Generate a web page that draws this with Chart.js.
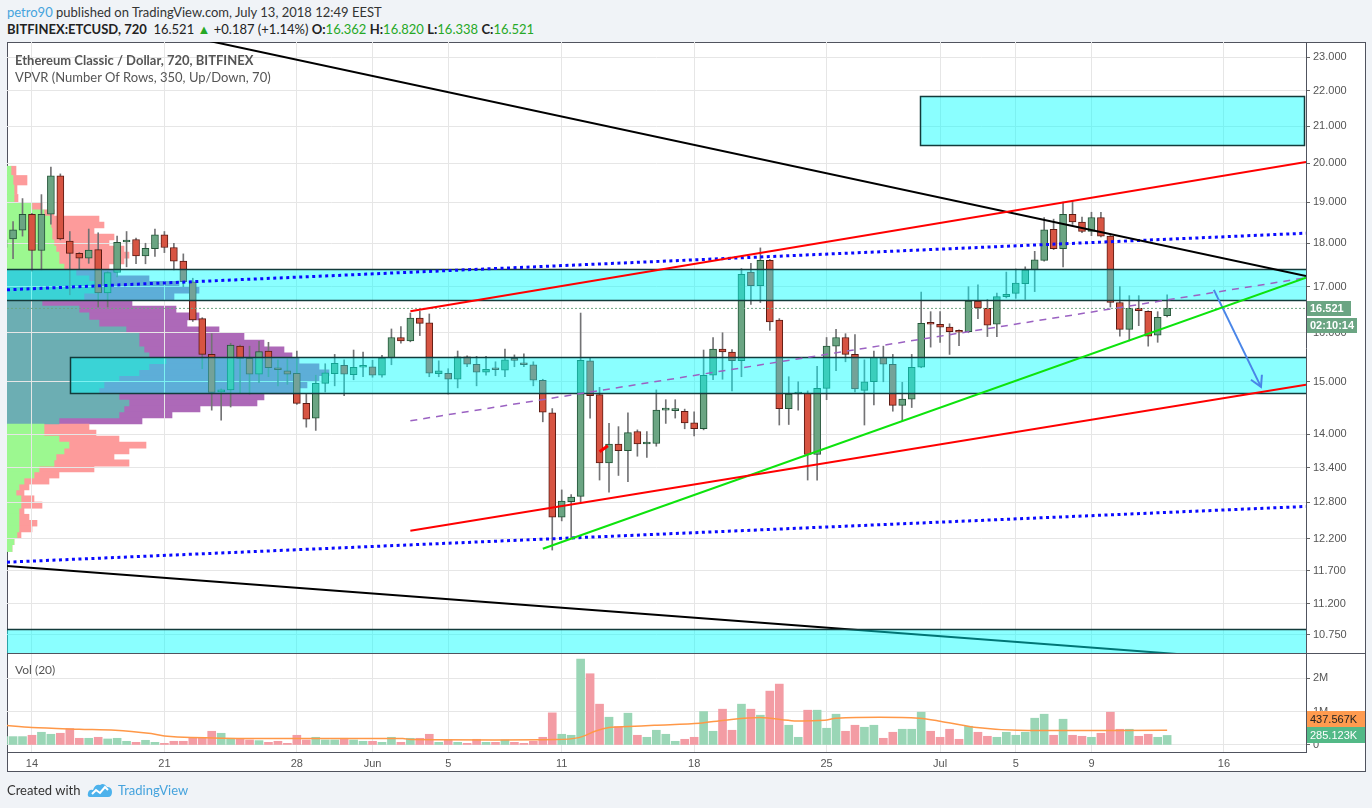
<!DOCTYPE html>
<html>
<head>
<meta charset="utf-8">
<title>ETCUSD 720</title>
<script src="https://cdn.jsdelivr.net/npm/chart.js@4.4.1/dist/chart.umd.min.js"></script>
<style>
  body { margin: 0; width: 1372px; height: 808px; overflow: hidden; background: #f0f3f7; font-family: Lato, "Liberation Sans", sans-serif; }
  .abs { position: absolute; }
  #frame { left: 7px; top: 42px; width: 1359px; height: 730px; background: #fff; box-sizing: border-box; border: 1px solid #50535e; }
  canvas { position: absolute; }
  .hl { position: absolute; height: 1px; background: #50535e; }
  .g { color: #26a826; }
  .txt { position: absolute; white-space: nowrap; z-index: 5; }
</style>
</head>
<body>
<div id="frame" class="abs"></div>
<canvas id="vpCanvas" width="1359" height="612" style="left:7px;top:42px"></canvas>
<canvas id="priceCanvas" width="1359" height="612" style="left:7px;top:42px"></canvas>
<canvas id="volCanvas" width="1359" height="118" style="left:7px;top:654px"></canvas>
<div class="hl" style="left:7px;top:653px;width:1359px;z-index:4"></div>

<div class="txt" style="left:7px;top:4px;font-size:13px;line-height:16px;color:#333"><span style="color:#45a3dd">petro90</span> published on TradingView.com, July 13, 2018 12:49 EEST</div>
<div class="txt" style="left:7px;top:21px;font-size:13px;line-height:16px;color:#222"><b>BITFINEX:ETCUSD, 720</b>&nbsp; 16.521 <span class="g">&#9650;</span> +0.187 (+1.14%) <b>O:</b><span class="g">16.362</span> <b>H:</b><span class="g">16.820</span> <b>L:</b><span class="g">16.338</span> <b>C:</b><span class="g">16.521</span></div>
<div class="txt" style="left:15px;top:52px;font-size:13px;line-height:16px;color:#555;font-weight:bold">Ethereum Classic / Dollar, 720, BITFINEX</div>
<div class="txt" style="left:15px;top:69px;font-size:13px;line-height:16px;color:#555">VPVR (Number Of Rows, 350, Up/Down, 70)</div>
<div class="txt" style="left:15px;top:662px;font-size:12px;line-height:16px;color:#555">Vol (20)</div>
<div class="txt" style="left:7px;top:782px;font-size:13px;line-height:16px;color:#333">Created with</div>
<svg class="txt" style="left:87px;top:781px" width="26" height="18" viewBox="0 0 26 18">
  <path d="M3 16 Q0 16 1 12 Q2 8 6 9 Q8 3 13 4 Q17 1 20 6 Q25 6 25 11 Q25 16 21 16 Z" fill="#4db2ec"/>
  <polyline points="5,13 9,9 13,12 18,6 21,9" fill="none" stroke="#fff" stroke-width="2"/>
</svg>
<div class="txt" style="left:118px;top:782px;font-size:13px;line-height:16px;color:#45a3dd">TradingView</div>

<script>
// ---- data: 12h candles, x in days after 14 May 2018 ----
const firstCandleDay = -1.5; // 12 May 12:00
const candleStep = 0.5;

const candleOpen = [17.90, 18.10, 18.31, 18.70, 17.83, 18.70, 19.67, 18.05, 17.76, 17.65,
  17.85, 16.86, 17.32, 18.03, 18.09, 17.70, 17.87, 18.20, 17.90, 17.58,
  17.11, 16.30, 15.55, 14.80, 14.84, 15.72, 15.47, 15.15, 15.62, 15.28,
  15.22, 15.17, 14.58, 14.30, 14.97, 15.16, 15.33, 15.14, 15.29, 15.30,
  15.13, 15.48, 15.90, 15.83, 16.31, 16.21, 15.16, 15.17, 15.05, 15.50,
  15.35, 15.19, 15.25, 15.23, 15.47, 15.38, 15.34, 15.03, 14.40, 12.55,
  12.81, 12.90, 15.42, 14.75, 13.48, 13.82, 13.70, 14.05, 13.82, 13.83,
  14.45, 14.44, 14.43, 14.21, 14.10, 15.13, 15.66, 15.60, 15.42, 17.33,
  17.02, 17.60, 16.27, 14.48, 14.76, 14.78, 13.63, 14.87, 15.72, 15.90,
  15.55, 14.83, 15.00, 15.49, 15.35, 14.54, 14.66, 15.29, 16.20, 16.18,
  16.12, 16.02, 16.02, 16.68, 16.52, 16.18, 16.78, 16.85, 17.07, 17.38,
  17.60, 18.33, 17.87, 18.70, 18.51, 18.28, 18.62, 18.17, 16.65, 16.07,
  16.52, 16.46, 15.95, 16.362];
const candleHigh = [18.25, 18.52, 19.09, 18.72, 19.19, 19.90, 19.72, 18.28, 17.78, 18.34,
  18.25, 17.34, 18.17, 18.28, 18.12, 18.00, 18.34, 18.28, 18.00, 17.75,
  17.19, 16.32, 15.98, 14.86, 15.78, 15.74, 15.72, 15.82, 15.80, 15.44,
  15.46, 15.62, 14.76, 15.13, 15.36, 15.55, 15.44, 15.64, 15.60, 15.43,
  15.53, 16.08, 16.13, 16.42, 16.46, 16.40, 15.42, 15.26, 15.62, 15.52,
  15.51, 15.51, 15.40, 15.66, 15.54, 15.56, 15.40, 15.05, 14.48, 13.01,
  12.93, 16.42, 15.47, 14.89, 14.20, 14.14, 14.40, 14.08, 14.05, 14.84,
  14.65, 14.65, 14.47, 14.42, 15.64, 15.90, 16.00, 15.65, 17.41, 17.53,
  17.89, 17.62, 16.30, 15.10, 15.00, 14.82, 15.31, 15.90, 16.07, 15.98,
  15.96, 15.44, 15.62, 15.72, 15.55, 14.99, 15.55, 16.88, 16.45, 16.45,
  16.19, 16.06, 17.00, 17.04, 16.72, 16.86, 17.33, 17.40, 17.45, 17.81,
  18.62, 18.58, 19.00, 19.02, 18.63, 18.75, 18.75, 18.20, 17.00, 16.80,
  16.80, 16.47, 16.45, 16.820];
const candleLow = [17.70, 17.64, 18.17, 17.35, 17.38, 18.46, 18.08, 16.82, 17.40, 17.53,
  16.55, 16.55, 17.22, 17.45, 17.52, 17.52, 17.69, 17.78, 17.38, 17.00,
  16.24, 15.26, 14.45, 14.26, 14.51, 14.78, 14.76, 14.98, 15.10, 14.92,
  14.95, 14.56, 14.13, 14.07, 14.80, 14.92, 14.73, 15.04, 15.10, 15.09,
  15.09, 15.34, 15.78, 15.81, 15.94, 15.10, 15.10, 14.76, 14.88, 15.30,
  14.92, 15.13, 15.12, 15.10, 15.30, 15.30, 14.92, 14.23, 12.02, 12.49,
  12.21, 12.80, 14.30, 13.18, 12.97, 13.26, 13.15, 13.60, 13.58, 13.78,
  14.20, 14.30, 14.10, 13.97, 14.08, 15.04, 15.05, 14.82, 15.10, 16.61,
  16.65, 16.05, 14.17, 14.18, 14.45, 13.18, 13.18, 14.65, 15.22, 15.40,
  14.80, 14.17, 14.55, 15.00, 14.43, 14.24, 14.50, 15.28, 15.70, 15.80,
  15.55, 15.73, 16.00, 16.30, 15.92, 15.92, 16.75, 16.74, 16.72, 16.89,
  17.58, 17.85, 17.45, 18.45, 18.25, 18.18, 18.15, 16.55, 15.93, 15.83,
  16.15, 15.72, 15.80, 16.338];
const candleClose = [18.08, 18.32, 18.70, 17.83, 18.70, 19.67, 18.10, 17.76, 17.65, 17.84,
  16.86, 17.32, 18.02, 18.07, 17.70, 17.88, 18.20, 17.90, 17.58, 17.11,
  16.27, 15.55, 14.79, 14.84, 15.74, 15.47, 15.15, 15.61, 15.28, 15.24,
  15.15, 14.58, 14.28, 14.97, 15.18, 15.37, 15.15, 15.29, 15.31, 15.13,
  15.48, 15.90, 15.83, 16.31, 16.20, 15.17, 15.22, 15.05, 15.50, 15.35,
  15.19, 15.25, 15.24, 15.44, 15.43, 15.34, 15.03, 14.41, 12.55, 12.82,
  12.89, 15.43, 14.73, 13.48, 13.82, 13.70, 14.03, 13.82, 13.83, 14.45,
  14.46, 14.45, 14.21, 14.10, 15.13, 15.66, 15.60, 15.42, 17.28, 17.02,
  17.60, 16.23, 14.48, 14.76, 14.78, 13.63, 14.87, 15.72, 15.90, 15.55,
  14.86, 15.00, 15.49, 15.35, 14.54, 14.66, 15.29, 16.20, 16.18, 16.12,
  16.02, 16.01, 16.68, 16.53, 16.16, 16.78, 16.83, 17.08, 17.38, 17.61,
  18.32, 17.87, 18.70, 18.51, 18.28, 18.62, 18.17, 16.65, 16.07, 16.52,
  16.47, 15.93, 16.33, 16.521];
// volume in millions
const volume = [0.25, 0.25, 0.25, 0.29, 0.38, 0.32, 0.35, 0.49, 0.20, 0.20,
  0.23, 0.18, 0.20, 0.11, 0.08, 0.14, 0.08, 0.05, 0.11, 0.11,
  0.22, 0.22, 0.41, 0.35, 0.20, 0.17, 0.15, 0.13, 0.08, 0.11,
  0.05, 0.29, 0.15, 0.23, 0.15, 0.15, 0.20, 0.15, 0.11, 0.11,
  0.08, 0.23, 0.08, 0.20, 0.20, 0.32, 0.08, 0.15, 0.08, 0.05,
  0.17, 0.08, 0.08, 0.15, 0.08, 0.05, 0.11, 0.23, 0.96, 0.32,
  0.29, 2.57, 2.13, 1.22, 0.83, 0.55, 0.95, 0.29, 0.23, 0.44,
  0.32, 0.11, 0.17, 0.23, 1.00, 0.41, 1.07, 0.44, 1.22, 1.07,
  0.89, 1.61, 1.82, 0.59, 0.23, 1.04, 1.04, 0.50, 0.92, 0.41,
  0.59, 0.53, 0.59, 0.20, 0.38, 0.47, 0.47, 0.98, 0.41, 0.23,
  0.47, 0.17, 0.56, 0.38, 0.26, 0.23, 0.38, 0.29, 0.38, 0.80,
  0.92, 0.29, 0.77, 0.29, 0.26, 0.23, 0.35, 0.98, 0.47, 0.47,
  0.26, 0.32, 0.23, 0.285123];
// Vol(20) moving average
const maDays = [-1.5, 0, 2.5, 4.4, 6.3, 7, 8.4, 11.8, 19.6, 20.1, 27.7, 28.9, 29.8, 30.5, 31.5,
  32.9, 35.3, 36.6, 38.5, 40.3, 41.9, 42.5, 44.8, 46.9, 48, 49.8, 52.1, 60];
const maValues = [0.59, 0.52, 0.47, 0.44, 0.34, 0.27, 0.22, 0.19, 0.19, 0.16, 0.16, 0.22, 0.42, 0.52, 0.55,
  0.59, 0.65, 0.74, 0.82, 0.72, 0.74, 0.80, 0.83, 0.80, 0.71, 0.53, 0.44, 0.437567];

// volume profile rows (price, up / down volume in arbitrary units)
const vpPrice = [19.80, 19.56, 19.31, 19.08, 18.89, 18.73, 18.58, 18.44, 18.29, 18.15,
  18.01, 17.86, 17.72, 17.58, 17.45, 17.31, 17.18, 17.06, 16.93, 16.78,
  16.64, 16.50, 16.35, 16.19, 16.06, 15.92, 15.77, 15.64, 15.53, 15.42,
  15.30, 15.18, 15.06, 14.94, 14.82, 14.70, 14.59, 14.47, 14.36, 14.25,
  14.13, 14.02, 13.91, 13.80, 13.69, 13.59, 13.48, 13.37, 13.27, 13.16,
  13.06, 12.96, 12.86, 12.75, 12.65, 12.55, 12.45, 12.36, 12.26, 12.16, 12.05];
const vpUp = [4, 6, 7, 7, 25, 37, 44, 44, 45, 45,
  47, 49, 52, 52, 57, 69, 82, 92, 92, 77,
  35, 72, 82, 92, 119, 132, 132, 137, 142, 159,
  142, 132, 112, 97, 92, 112, 122, 117, 112, 52,
  37, 37, 52, 62, 57, 49, 47, 32, 27, 17,
  12, 9, 14, 14, 12, 12, 12, 12, 10, 7, 5];
const vpDown = [5, 14, 3, 4, 10, 10, 48, 53, 42, 62,
  55, 68, 70, 65, 45, 40, 60, 80, 100, 90,
  90, 97, 110, 88, 93, 105, 125, 140, 143, 133,
  170, 190, 200, 203, 198, 145, 128, 76, 53, 83,
  45, 52, 60, 77, 65, 58, 75, 55, 25, 25,
  10, 8, 13, 21, 5, 10, 18, 13, 4, 0, 0];
const valueAreaHigh = 17.40;
const valueAreaLow = 14.19;

// drawings: [day, price] end points
const trendTop = [[-1.32, 24.87], [67.34, 17.24]];
const trendBottom = [[-1.32, 11.77], [67.34, 10.35]];
const channelHigh = [[20.0, 16.46], [67.34, 20.03]];
const channelLow = [[20.0, 12.33], [67.34, 14.94]];
const supportGreen = [[27.0, 12.04], [67.34, 17.20]];
const dottedHigh = [[-1.32, 16.93], [67.34, 18.24]];
const dottedLow = [[-1.32, 11.83], [67.34, 12.73]];
const midDashed = [[20.0, 14.25], [67.34, 17.20]];
const arrowShaft = [[62.47, 16.93], [64.96, 14.90]];
const arrowHead = [[64.43, 15.04], [64.96, 14.90], [65.01, 15.14]];
const redTick = [[30.0, 13.68], [30.44, 13.79]];

// rectangles
const zoneDays = [[46.93, 67.23], [-5, 80], [2.02, 80], [-5, 80]];
const zoneHigh = [21.85, 17.40, 15.50, 10.83];
const zoneLow = [20.48, 16.70, 14.78, 9.0];

// axes
const xMin = -1.32, xMax = 67.34;
const priceMin = 10.483, priceMax = 23.459;
const priceTicks = [10.75, 11.2, 11.7, 12.2, 12.8, 13.4, 14, 15, 16, 17, 18, 19, 20, 21, 22, 23];
const dateTickDays = [0, 7, 14, 18, 22, 28, 35, 42, 48, 52, 56, 63];
const dateTickLabels = ['14', '21', '28', 'Jun', '5', '11', '18', '25', 'Jul', '5', '9', '16'];
const volTicks = [0, 1, 2];
const countdown = '02:10:14';

// ---- styling ----
const axisFont = { family: '"Liberation Sans", Arial, sans-serif', size: 11 };
const gridColor = '#e6e6e6';
const frameColor = '#50535e';
const upColor = '#6ba583', upBorder = '#225437';
const downColor = '#d75442', downBorder = '#5b1a13';

const candleX = candleOpen.map((_, i) => firstCandleDay + i * candleStep);
const isUp = candleOpen.map((o, i) => candleClose[i] >= o);
const lastClose = candleClose[candleClose.length - 1];

function pts(list) {
    return list.map(p => ({ x: p[0], y: p[1] }));
}

function lineSet(list, color, width, dash, order) {
    return {
        type: 'line',
        data: pts(list),
        borderColor: color,
        borderWidth: width,
        borderDash: dash || [],
        pointRadius: 0,
        fill: false,
        tension: 0,
        order: order
    };
}

function dateAxis(showLabels) {
    return {
        type: 'linear',
        min: xMin,
        max: xMax,
        offset: false,
        afterBuildTicks: s => { s.ticks = dateTickDays.map(v => ({ value: v })); },
        afterFit: s => { s.height = showLabels ? 20 : 0; s.paddingLeft = 0; s.paddingRight = 0; },
        grid: { color: gridColor, drawTicks: false, offset: false },
        border: { display: showLabels, color: frameColor },
        ticks: {
            display: showLabels,
            autoSkip: false,
            maxRotation: 0,
            padding: 5,
            color: '#555',
            font: axisFont,
            callback: (v, i) => dateTickLabels[i]
        }
    };
}

// zones are drawn right after the candle bodies, under the trend lines
const zonePlugin = {
    id: 'zones',
    afterDatasetDraw(chart, args) {
        if (chart.data.datasets[args.index].label !== 'bodies') return;
        const { ctx, chartArea: a, scales: { x, y } } = chart;
        ctx.save();
        ctx.beginPath();
        ctx.rect(a.left, a.top, a.right - a.left, a.bottom - a.top);
        ctx.clip();
        zoneDays.forEach((d, i) => {
            const x1 = Math.round(x.getPixelForValue(d[0])) + 0.5;
            const x2 = Math.round(x.getPixelForValue(d[1])) + 0.5;
            const y1 = Math.round(y.getPixelForValue(zoneHigh[i])) + 0.5;
            const y2 = Math.round(y.getPixelForValue(zoneLow[i])) + 0.5;
            ctx.fillStyle = 'rgba(0, 255, 255, 0.46)';
            ctx.fillRect(x1, y1, x2 - x1, y2 - y1);
            ctx.strokeStyle = '#133b3b';
            ctx.lineWidth = 1.5;
            ctx.strokeRect(x1, y1, x2 - x1, y2 - y1);
        });
        ctx.restore();
    }
};

const lastPriceTag = {
    id: 'lastPriceTag',
    afterDraw(chart) {
        const { ctx, chartArea: a, scales: { y } } = chart;
        const yy = Math.round(y.getPixelForValue(lastClose));
        ctx.save();
        ctx.fillStyle = upColor;
        ctx.fillRect(a.right + 1, yy - 7, 44, 15);
        ctx.fillRect(a.right + 1, yy + 10, 50, 15);
        ctx.fillStyle = '#fff';
        ctx.font = 'bold 11px "Liberation Sans", Arial, sans-serif';
        ctx.textBaseline = 'middle';
        ctx.fillText(lastClose.toFixed(3), a.right + 4, yy + 1);
        ctx.fillText(countdown, a.right + 4, yy + 18);
        ctx.restore();
    }
};

const volumeTags = {
    id: 'volumeTags',
    afterDraw(chart) {
        const { ctx, chartArea: a, scales: { y } } = chart;
        const lastVol = volume[volume.length - 1];
        const lastMa = maValues[maValues.length - 1];
        const gy = Math.round(y.getPixelForValue(lastVol));
        const oy = Math.min(Math.round(y.getPixelForValue(lastMa)), gy - 16);
        ctx.save();
        ctx.font = '11px "Liberation Sans", Arial, sans-serif';
        ctx.textBaseline = 'middle';
        ctx.fillStyle = '#ff9b4f';
        ctx.fillRect(a.right + 1, oy - 8, 58, 16);
        ctx.fillStyle = '#222';
        ctx.fillText((lastMa * 1000).toFixed(3) + 'K', a.right + 4, oy + 1);
        ctx.fillStyle = '#53b987';
        ctx.fillRect(a.right + 1, gy - 8, 58, 16);
        ctx.fillStyle = '#fff';
        ctx.fillText((lastVol * 1000).toFixed(3) + 'K', a.right + 4, gy + 1);
        ctx.restore();
    }
};

// ---- volume profile (behind the price chart) ----
function inValueArea(p) {
    return p <= valueAreaHigh && p >= valueAreaLow;
}

new Chart(document.getElementById('vpCanvas'), {
    type: 'bar',
    data: {
        datasets: [
            {
                data: vpPrice.map((p, i) => ({ y: p, x: vpUp[i] })),
                backgroundColor: vpPrice.map(p => inValueArea(p) ? '#6caeb3' : '#9cf890')
            },
            {
                data: vpPrice.map((p, i) => ({ y: p, x: vpDown[i] })),
                backgroundColor: vpPrice.map(p => inValueArea(p) ? '#ad69b8' : '#fd9b9b')
            }
        ]
    },
    options: {
        indexAxis: 'y',
        responsive: false,
        animation: false,
        devicePixelRatio: 1,
        events: [],
        layout: { padding: { right: 60 } },
        datasets: { bar: { barThickness: 'flex', barPercentage: 1, categoryPercentage: 1, borderWidth: 0 } },
        plugins: { legend: { display: false }, tooltip: { enabled: false } },
        scales: {
            y: { type: 'logarithmic', min: priceMin, max: priceMax, offset: false, stacked: true, display: false },
            x: { type: 'linear', min: 0, max: 1299, stacked: true, display: false }
        }
    }
});

// ---- price chart ----
new Chart(document.getElementById('priceCanvas'), {
    type: 'bar',
    data: {
        datasets: [
            lineSet(trendBottom, '#000', 2, null, 10),
            {
                label: 'wicks',
                data: candleX.map((x, i) => ({ x: x, y: [candleLow[i], candleHigh[i]] })),
                backgroundColor: '#737375',
                barThickness: 1,
                grouped: false,
                order: 5
            },
            {
                label: 'bodies',
                data: candleX.map((x, i) => ({ x: x, y: [candleOpen[i], candleClose[i]] })),
                backgroundColor: isUp.map(u => u ? upColor : downColor),
                borderColor: isUp.map(u => u ? upBorder : downBorder),
                borderWidth: 1,
                borderSkipped: false,
                barThickness: 7,
                minBarLength: 2,
                grouped: false,
                order: 4
            },
            lineSet([[xMin, lastClose], [xMax, lastClose]], upColor, 1, [2, 2], 3),
            lineSet(midDashed, '#9b62c2', 1.5, [7, 6], 1),
            lineSet(dottedHigh, '#0a0aff', 3, [3, 3.5], 1),
            lineSet(dottedLow, '#0a0aff', 3, [3, 3.5], 1),
            lineSet(channelHigh, '#ff0000', 2, null, 0),
            lineSet(channelLow, '#ff0000', 2, null, 0),
            lineSet(supportGreen, '#0de30d', 2, null, 0),
            lineSet(trendTop, '#000', 2, null, 0),
            lineSet(arrowShaft, '#4a86e8', 2, null, 0),
            lineSet(arrowHead, '#4a86e8', 2, null, 0),
            lineSet(redTick, '#ff0000', 3, null, 0)
        ]
    },
    options: {
        responsive: false,
        animation: false,
        devicePixelRatio: 1,
        events: [],
        layout: { padding: 0 },
        plugins: { legend: { display: false }, tooltip: { enabled: false } },
        scales: {
            x: dateAxis(false),
            y: {
                type: 'logarithmic',
                position: 'right',
                min: priceMin,
                max: priceMax,
                afterBuildTicks: s => { s.ticks = priceTicks.map(v => ({ value: v })); },
                afterFit: s => { s.width = 60; s.paddingTop = 0; s.paddingBottom = 0; },
                grid: { color: gridColor, tickColor: '#666', tickLength: 4 },
                border: { display: true, color: frameColor },
                ticks: { autoSkip: false, padding: 3, color: '#555', font: axisFont, callback: v => Number(v).toFixed(3) }
            }
        }
    },
    plugins: [zonePlugin, lastPriceTag]
});

// ---- volume pane ----
new Chart(document.getElementById('volCanvas'), {
    type: 'bar',
    data: {
        datasets: [
            {
                type: 'line',
                data: maDays.map((d, i) => ({ x: d, y: maValues[i] })),
                borderColor: '#ff9848',
                borderWidth: 1.5,
                pointRadius: 0,
                tension: 0.3,
                order: 0
            },
            {
                data: candleX.map((x, i) => ({ x: x, y: volume[i] })),
                backgroundColor: isUp.map(u => u ? '#9ad6b6' : '#f39ca4'),
                barThickness: 8,
                grouped: false,
                order: 1
            }
        ]
    },
    options: {
        responsive: false,
        animation: false,
        devicePixelRatio: 1,
        events: [],
        layout: { padding: 0 },
        plugins: { legend: { display: false }, tooltip: { enabled: false } },
        scales: {
            x: dateAxis(true),
            y: {
                position: 'right',
                min: -0.21,
                max: 2.72,
                afterBuildTicks: s => { s.ticks = volTicks.map(v => ({ value: v })); },
                afterFit: s => { s.width = 60; s.paddingTop = 0; s.paddingBottom = 0; },
                grid: { color: gridColor, tickColor: '#666', tickLength: 4 },
                border: { display: true, color: frameColor },
                ticks: { padding: 3, color: '#555', font: axisFont, callback: v => v === 0 ? '0' : v + 'M' }
            }
        }
    },
    plugins: [volumeTags]
});
</script>
</body>
</html>
